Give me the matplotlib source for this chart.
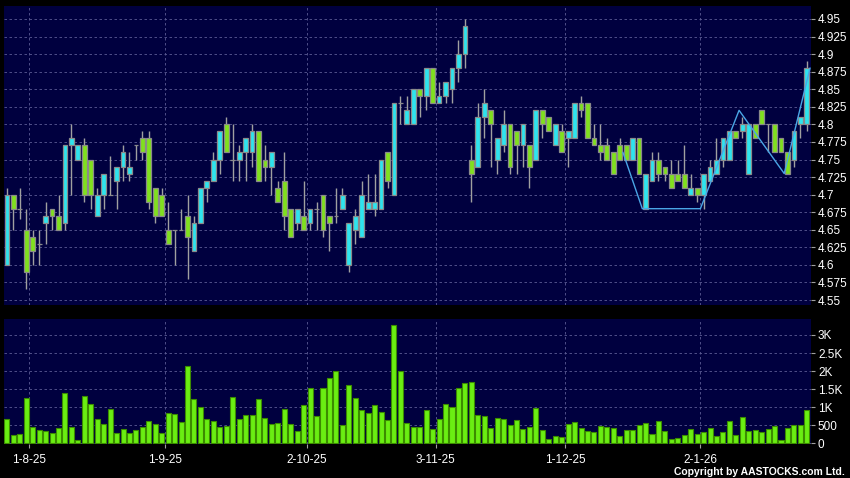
import numpy as np
import matplotlib
matplotlib.use("Agg")
import matplotlib.pyplot as plt
from matplotlib.ticker import FixedLocator, FuncFormatter

# ================= DATA =================
# daily OHLC, one entry per trading day (index 0 = 28-7-25)
opens = [4.60, 4.70, 4.68, 4.65, 4.64, 4.63, 4.66, 4.68, 4.67, 4.66,
         4.77, 4.75, 4.77, 4.75, 4.67, 4.70, 4.70, 4.72, 4.74, 4.73,
         4.77, 4.78, 4.78, 4.71, 4.70, 4.65, 4.65, 4.65, 4.67, 4.62,
         4.66, 4.71, 4.72, 4.75, 4.80, 4.75, 4.75, 4.76, 4.76, 4.79,
         4.75, 4.74, 4.71, 4.72, 4.68, 4.66, 4.67, 4.66, 4.68, 4.70,
         4.67, 4.67, 4.68, 4.60, 4.65, 4.64, 4.68, 4.68, 4.68, 4.76,
         4.70, 4.83, 4.80, 4.80, 4.85, 4.84, 4.88, 4.83, 4.84, 4.85,
         4.88, 4.90, 4.75, 4.74, 4.81, 4.82, 4.75, 4.77, 4.80, 4.79,
         4.77, 4.77, 4.75, 4.82, 4.81, 4.77, 4.79, 4.78, 4.78, 4.83,
         4.83, 4.78, 4.77, 4.77, 4.76, 4.77, 4.77, 4.75, 4.78, 4.68,
         4.72, 4.75, 4.74, 4.73, 4.73, 4.73, 4.70, 4.71, 4.70, 4.72,
         4.73, 4.75, 4.75, 4.79, 4.79, 4.73, 4.80, 4.82, 4.80, 4.80,
         4.78, 4.76, 4.75, 4.80, 4.80]
highs = [4.71, 4.70, 4.71, 4.68, 4.65, 4.65, 4.69, 4.68, 4.70, 4.77,
         4.80, 4.77, 4.78, 4.75, 4.71, 4.73, 4.755, 4.74, 4.77, 4.76,
         4.77, 4.79, 4.79, 4.71, 4.71, 4.69, 4.65, 4.68, 4.70, 4.67,
         4.71, 4.72, 4.76, 4.79, 4.81, 4.80, 4.77, 4.78, 4.80, 4.79,
         4.77, 4.76, 4.72, 4.76, 4.68, 4.68, 4.72, 4.68, 4.69, 4.70,
         4.67, 4.71, 4.71, 4.66, 4.68, 4.72, 4.73, 4.73, 4.75, 4.76,
         4.83, 4.84, 4.84, 4.85, 4.85, 4.88, 4.88, 4.86, 4.86, 4.88,
         4.92, 4.95, 4.77, 4.83, 4.85, 4.82, 4.78, 4.82, 4.80, 4.79,
         4.80, 4.77, 4.82, 4.82, 4.81, 4.80, 4.80, 4.79, 4.83, 4.84,
         4.83, 4.80, 4.80, 4.78, 4.76, 4.78, 4.77, 4.78, 4.78, 4.73,
         4.76, 4.76, 4.74, 4.75, 4.75, 4.77, 4.73, 4.71, 4.73, 4.75,
         4.78, 4.78, 4.79, 4.79, 4.81, 4.80, 4.80, 4.82, 4.80, 4.80,
         4.78, 4.76, 4.79, 4.81, 4.89]
lows = [4.60, 4.65, 4.665, 4.565, 4.60, 4.60, 4.63, 4.65, 4.65, 4.65,
        4.70, 4.75, 4.69, 4.68, 4.67, 4.68, 4.70, 4.68, 4.72, 4.72,
        4.75, 4.75, 4.68, 4.66, 4.67, 4.63, 4.60, 4.65, 4.58, 4.62,
        4.66, 4.69, 4.72, 4.73, 4.76, 4.72, 4.72, 4.72, 4.74, 4.72,
        4.72, 4.70, 4.69, 4.65, 4.64, 4.65, 4.65, 4.65, 4.65, 4.64,
        4.62, 4.66, 4.68, 4.59, 4.63, 4.64, 4.68, 4.67, 4.68, 4.71,
        4.70, 4.80, 4.80, 4.80, 4.81, 4.82, 4.83, 4.83, 4.83, 4.83,
        4.86, 4.88, 4.69, 4.74, 4.78, 4.74, 4.73, 4.76, 4.73, 4.73,
        4.74, 4.71, 4.75, 4.78, 4.79, 4.77, 4.76, 4.74, 4.78, 4.81,
        4.78, 4.77, 4.75, 4.75, 4.73, 4.75, 4.75, 4.75, 4.73, 4.68,
        4.72, 4.72, 4.72, 4.71, 4.72, 4.71, 4.70, 4.69, 4.68, 4.72,
        4.73, 4.74, 4.75, 4.78, 4.78, 4.73, 4.78, 4.80, 4.76, 4.76,
        4.76, 4.73, 4.74, 4.78, 4.79]
closes = [4.70, 4.68, 4.68, 4.59, 4.62, 4.63, 4.67, 4.67, 4.65, 4.77,
          4.78, 4.77, 4.70, 4.70, 4.70, 4.73, 4.70, 4.74, 4.76, 4.74,
          4.77, 4.76, 4.69, 4.67, 4.67, 4.63, 4.65, 4.65, 4.64, 4.66,
          4.71, 4.72, 4.75, 4.79, 4.76, 4.75, 4.76, 4.78, 4.79, 4.72,
          4.74, 4.76, 4.69, 4.67, 4.64, 4.68, 4.65, 4.68, 4.68, 4.65,
          4.66, 4.67, 4.70, 4.66, 4.67, 4.70, 4.69, 4.69, 4.75, 4.72,
          4.83, 4.83, 4.82, 4.85, 4.84, 4.88, 4.83, 4.84, 4.86, 4.88,
          4.90, 4.94, 4.73, 4.81, 4.83, 4.80, 4.78, 4.80, 4.74, 4.77,
          4.80, 4.74, 4.82, 4.80, 4.79, 4.80, 4.76, 4.79, 4.83, 4.82,
          4.78, 4.77, 4.76, 4.75, 4.73, 4.75, 4.75, 4.78, 4.73, 4.73,
          4.75, 4.73, 4.73, 4.71, 4.72, 4.71, 4.71, 4.70, 4.73, 4.74,
          4.75, 4.78, 4.79, 4.78, 4.80, 4.80, 4.78, 4.80, 4.80, 4.76,
          4.76, 4.73, 4.79, 4.81, 4.88]
volumes = [674, 240, 250, 1255, 443, 369, 332, 277, 434, 1385,
           461, 92, 1311, 1098, 674, 545, 941, 277, 397, 286,
           360, 461, 609, 535, 286, 849, 821, 591, 2141, 1227,
           1006, 674, 618, 461, 489, 1273, 674, 785, 775, 1227,
           692, 535, 572, 951, 526, 332, 1052, 1532, 757, 1523,
           1800, 2003, 508, 1615, 1264, 923, 831, 1061, 868, 646,
           3267, 2003, 572, 461, 450, 920, 400, 680, 1080, 1000,
           1540, 1680, 1690, 790, 760, 430, 700, 680, 510, 650,
           400, 450, 970, 380, 120, 200, 180, 530, 600, 420,
           330, 320, 470, 460, 420, 190, 360, 380, 520, 550,
           270, 610, 330, 130, 160, 240, 400, 260, 300, 420,
           200, 300, 630, 230, 730, 330, 370, 310, 390, 470,
           80, 410, 520, 500, 910]

# month starts (first trading day index) and their labels
month_idx = [4, 25, 47, 67, 87, 108]
month_labels = ["1-8-25", "1-9-25", "2-10-25", "3-11-25", "1-12-25", "2-1-26"]

# pattern line drawn over the last weeks
pattern_x = [95.5, 98.5, 107.5, 113.5, 120.5, 124.5]
pattern_y = [4.76, 4.68, 4.68, 4.82, 4.73, 4.88]

price_ticks = [4.55 + 0.025 * k for k in range(17)]
vol_ticks = [0, 500, 1000, 1500, 2000, 2500, 3000]
vol_labels = ["0", "500", "1K", "1.5K", "2K", "2.5K", "3K"]

# ================= STYLE =================
BG = "#000000"
PANEL = "#00003f"
GRID = "#5c5c94"
UP = "#2ee4ee"
DOWN = "#80e01e"
EDGE = "#8a8a8a"
WICK = "#a0a0a0"
VOL = "#6aee12"
VOL_EDGE = "#3c8c00"
TXT = "#ffffff"

plt.rcParams['font.family'] = ['Liberation Sans', 'DejaVu Sans']

fig = plt.figure(figsize=(8.5, 4.78), dpi=100, facecolor=BG)
ax = fig.add_axes([4 / 850, 1 - 305 / 478, 807 / 850, 299 / 478])
axv = fig.add_axes([4 / 850, 1 - 444 / 478, 807 / 850, 125 / 478])

x = np.arange(len(opens))
o = np.array(opens)
h = np.array(highs)
l = np.array(lows)
c = np.array(closes)
up = c >= o

# ================= PRICE =================
ax.vlines(x, l, h, color=WICK, linewidth=1.0, zorder=2)
bottoms = np.minimum(o, c)
heights = np.abs(c - o)
colors = [UP if u else DOWN for u in up]
ax.bar(x, heights, bottom=bottoms, width=0.74, color=colors,
       edgecolor=EDGE, linewidth=0.9, zorder=3)
ax.plot(pattern_x, pattern_y, color="#4aa6e6", linewidth=1.0, zorder=4)

# ================= VOLUME =================
axv.bar(x, volumes, width=0.78, color=VOL, edgecolor=VOL_EDGE,
        linewidth=0.8, zorder=3)

# ================= AXES =================
xmin, xmax = -0.45, len(opens) - 0.35
for a in (ax, axv):
    a.set_facecolor(PANEL)
    a.set_xlim(xmin, xmax)
    for s in a.spines.values():
        s.set_visible(False)
    a.yaxis.tick_right()
    a.tick_params(axis='y', colors=WICK, labelcolor=TXT, length=3,
                  width=0.8, pad=2, labelsize=8.5)
    a.grid(axis='y', color=GRID, linestyle=(0, (3, 3)), linewidth=0.6)
    for m in month_idx:
        a.axvline(m - 0.5, color=GRID, linestyle=(0, (3, 3)),
                  linewidth=0.6, zorder=1)
    a.set_axisbelow(True)

ax.set_ylim(4.5429, 4.9685)
ax.yaxis.set_major_locator(FixedLocator(price_ticks))
ax.yaxis.set_major_formatter(FuncFormatter(lambda v, p: "%g" % round(v, 3)))
ax.set_xticks([])

axv.set_ylim(-20, 3443)
axv.set_yticks(vol_ticks)
axv.set_yticklabels(vol_labels)
axv.set_xticks([m - 0.5 for m in month_idx])
axv.set_xticklabels(month_labels)
axv.tick_params(axis='x', colors=WICK, labelcolor=TXT, length=3,
                width=0.8, pad=4, labelsize=8.5)

fig.text(845 / 850, 1 - 472 / 478, "Copyright by AASTOCKS.com Ltd.",
         color=TXT, fontsize=7.5, fontweight='bold', ha='right', va='center')

fig.savefig("out.png", dpi=100, facecolor=BG)
